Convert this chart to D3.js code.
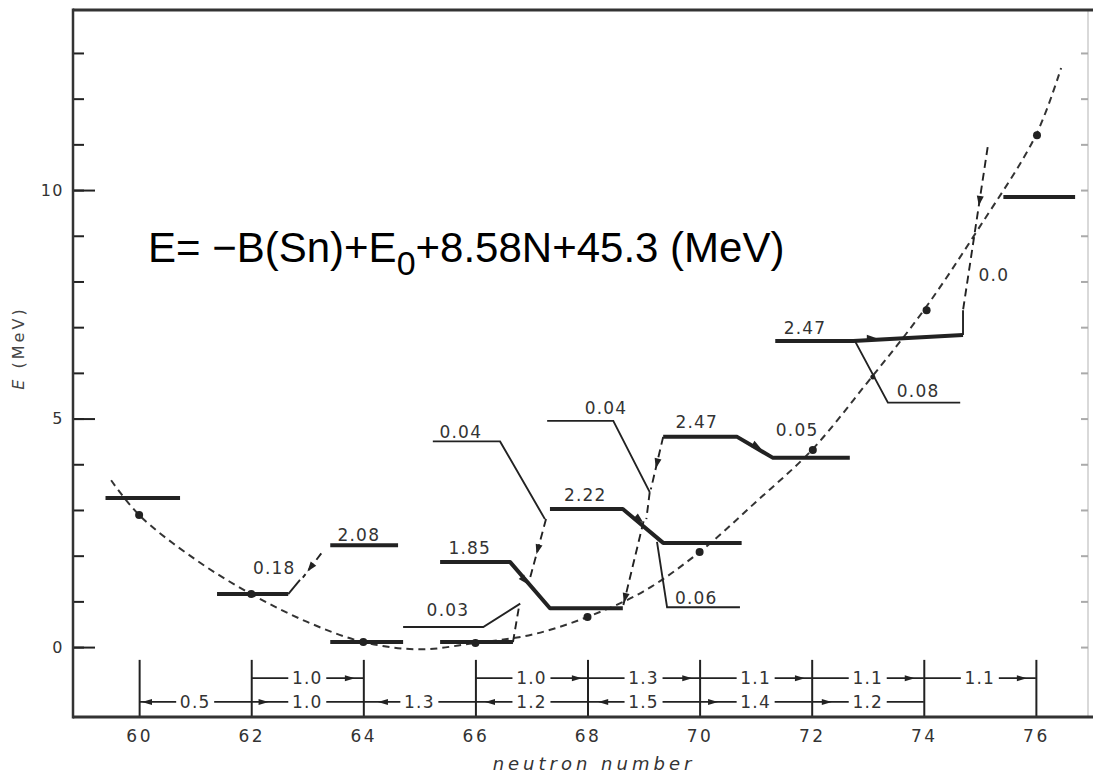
<!DOCTYPE html>
<html><head><meta charset="utf-8">
<script src="https://cdn.jsdelivr.net/npm/d3@7"></script>
<style>body{margin:0;background:#fff} svg{display:block}</style>
</head><body>
<svg id="c" width="1093" height="779"></svg>
<script>
// ---------- data ----------
const xTicks = [60, 62, 64, 66, 68, 70, 72, 74, 76];
const xTickLabels = ["60", "62", "64", "66", "68", "70", "72", "74", "76"];
const yMajorTicks = [0, 5, 10];
const yMinorTicks = [0, 1, 2, 3, 4, 5, 6, 7, 8, 9, 10, 11, 12, 13];

// dashed parabola, read point by point
const parabolaN = [59.5, 60, 61, 62, 63, 64, 65, 66, 67, 68, 69, 70, 71, 72, 73, 74, 75, 76, 76.45];
const parabolaE = [3.65, 2.89, 1.92, 1.16, 0.55, 0.11, -0.05, 0.09, 0.27, 0.66, 1.22, 2.08, 3.17, 4.31, 5.8, 7.37, 9.2, 11.2, 12.67];

// filled points
const dotN = [60, 62, 64, 66, 68, 70, 72.02, 74.05, 76.02];
const dotE = [2.89, 1.16, 0.11, 0.09, 0.66, 2.08, 4.31, 7.37, 11.2];
const smallDotN = [73.09];
const smallDotE = [5.91];

// thick level lines (N, E)
const levels = [
  [[59.4, 3.26], [60.73, 3.26]],
  [[61.39, 1.16], [62.66, 1.16]],
  [[63.41, 2.23], [64.62, 2.23]],
  [[63.41, 0.11], [64.71, 0.11]],
  [[65.37, 0.11], [66.67, 0.11]],
  [[65.37, 1.86], [66.62, 1.86], [67.33, 0.85], [68.63, 0.85]],
  [[67.33, 3.02], [68.63, 3.02], [69.35, 2.28], [70.75, 2.28]],
  [[69.35, 4.6], [70.67, 4.6], [71.31, 4.14], [72.68, 4.14]],
  [[71.35, 6.70], [72.74, 6.70], [74.70, 6.83]],
  [[75.42, 9.85], [76.70, 9.85]]
];

// thin connector / underline lines
const thinLines = [
  [[62.66, 1.16], [62.87, 1.47]],
  [[64.71, 0.44], [66.14, 0.44], [66.8, 0.95]],
  [[65.24, 4.5], [66.44, 4.5], [67.24, 2.8]],
  [[67.28, 4.95], [68.46, 4.95], [69.11, 3.39]],
  [[69.24, 2.3], [69.42, 0.87], [70.72, 0.87]],
  [[72.77, 6.70], [73.36, 5.35], [74.65, 5.35]],
  [[74.70, 6.83], [74.70, 7.37]]
];

// dashed transitions
const transitions = [
  [[63.25, 2.05], [62.92, 1.52]],
  [[67.26, 2.8], [66.95, 1.4]],
  [[69.11, 3.39], [69.05, 2.8]],
  [[69.35, 4.6], [69.13, 3.45]],
  [[69.0, 2.75], [68.63, 0.87]],
  [[66.67, 0.11], [66.78, 0.9]],
  [[75.14, 10.94], [74.70, 7.37]]
];
// arrowhead position as fraction along line, null = none
const transitionHead = [0.75, 0.55, null, 0.6, 0.95, null, 0.36];

// arrow marks sitting on level slopes (position and direction)
const markN = [66.89, 68.94, 71.04, 73.09];
const markE = [1.44, 2.78, 4.38, 6.76];
const markDN = [0.71, 0.72, 0.64, 1];
const markDE = [-1.01, -0.74, -0.46, 0];

// level labels
const labelText = ["0.18", "2.08", "0.03", "1.85", "0.04", "2.22", "0.04", "2.47", "0.05", "0.06", "2.47", "0.08", "0.0"];
const labelN = [62.41, 63.92, 65.51, 65.9, 65.74, 67.96, 68.33, 69.95, 71.74, 69.94, 71.88, 73.9, 75.25];
const labelE = [1.73, 2.45, 0.81, 2.17, 4.70, 3.33, 5.23, 4.92, 4.75, 1.07, 6.98, 5.60, 8.14];

// bottom spacing rows
const upperRowFrom = [62, 66, 68, 70, 72, 74];
const upperRowTo = [64, 68, 70, 72, 74, 76];
const upperRowLabels = ["1.0", "1.0", "1.3", "1.1", "1.1", "1.1"];
const upperRowArrowN = [63.76, 67.81, 69.78, 71.79, 73.75, 75.75];
const upperRowArrowDir = [1, 1, 1, 1, 1, 1];
const lowerRowFrom = [60, 62, 64, 66, 68, 70, 72];
const lowerRowTo = [62, 64, 66, 68, 70, 72, 74];
const lowerRowLabels = ["0.5", "1.0", "1.3", "1.2", "1.5", "1.4", "1.2"];
const lowerRowArrowN = [60.14, 62.22, 64.35, 66.26, 68.28, 70.24, 72.27];
const lowerRowArrowDir = [-1, 1, -1, -1, -1, 1, 1];
const upperRowE = -0.68, lowerRowE = -1.2, tickTopE = -0.28;

// ---------- drawing ----------
const svg = d3.select("#c");
const ink = "#222";
const x = d3.scaleLinear().domain([58.82, 76.93]).range([73, 1088]);
const y = d3.scaleLinear().domain([-1.53, 13.94]).range([717, 10]);
const lbFont = "'DejaVu Sans', sans-serif";

// right faint axis
svg.append("line").attr("x1", 1088).attr("x2", 1088).attr("y1", y(13.94)).attr("y2", y(-1.53))
  .attr("stroke", "#ccc").attr("stroke-width", 1.5);
svg.append("g").attr("transform", `translate(1088,0)`)
  .call(d3.axisRight(y).tickValues(yMinorTicks).tickSize(-7).tickFormat(""))
  .call(g => g.select(".domain").remove())
  .call(g => g.selectAll("line").attr("stroke", "#aaa").attr("stroke-width", 2));

// left axis minor ticks
svg.append("g").attr("transform", `translate(${x.range()[0]},0)`)
  .call(d3.axisLeft(y).tickValues(yMinorTicks).tickSize(-11).tickFormat(""))
  .call(g => g.select(".domain").remove())
  .call(g => g.selectAll("line").attr("stroke", ink).attr("stroke-width", 2));
// left axis major ticks + labels
svg.append("g").attr("transform", `translate(${x.range()[0]},0)`)
  .call(d3.axisLeft(y).tickValues(yMajorTicks).tickSize(-22).tickPadding(9).tickFormat(d3.format("d")))
  .call(g => g.select(".domain").remove())
  .call(g => g.selectAll("line").attr("stroke", ink).attr("stroke-width", 2))
  .call(g => g.selectAll("text").attr("font-family", lbFont).attr("font-size", 16)
      .attr("fill", "#333").attr("letter-spacing", 1.5));

// bottom axis with tall inward ticks
const tickLen = y(tickTopE) - y(-1.53);
svg.append("g").attr("transform", `translate(0,${y.range()[0]})`)
  .call(d3.axisBottom(x).tickValues(xTicks).tickSizeInner(tickLen).tickSizeOuter(0).tickPadding(13)
      .tickFormat((d, i) => xTickLabels[i]))
  .call(g => g.select(".domain").remove())
  .call(g => g.selectAll("line").attr("stroke", ink).attr("stroke-width", 2))
  .call(g => g.selectAll("text").attr("font-family", lbFont).attr("font-size", 17)
      .attr("fill", "#333").attr("letter-spacing", 2.5));

// frame lines
svg.append("line").attr("x1", 73).attr("x2", 1093).attr("y1", y(13.94)).attr("y2", y(13.94))
  .attr("stroke", "#333").attr("stroke-width", 3);
svg.append("line").attr("x1", 73).attr("x2", 1093).attr("y1", y(-1.53)).attr("y2", y(-1.53))
  .attr("stroke", "#333").attr("stroke-width", 3);
svg.append("line").attr("x1", 73).attr("x2", 73).attr("y1", y(13.94) - 1.5).attr("y2", y(-1.53) + 1.5)
  .attr("stroke", "#333").attr("stroke-width", 2.5);

// axis titles
svg.append("text").attr("transform", `translate(24,348) rotate(-90)`).attr("text-anchor", "middle")
  .attr("font-family", lbFont).attr("font-size", 16).attr("fill", "#444").attr("letter-spacing", 3)
  .html("<tspan font-style='italic'>E</tspan> (MeV)");
svg.append("text").attr("x", 594).attr("y", 770).attr("text-anchor", "middle")
  .attr("font-family", lbFont).attr("font-style", "italic").attr("font-size", 18).attr("fill", "#333")
  .attr("letter-spacing", 4).text("neutron number");

const line = d3.line().x(d => x(d[0])).y(d => y(d[1]));

function arrowHead(px, py, ang, len = 11, w = 7) {
  svg.append("path").attr("d", `M0,0 L${-len},${-w / 2} L${-len},${w / 2} Z`)
    .attr("transform", `translate(${px},${py}) rotate(${ang})`).attr("fill", ink);
}

// parabola
const parabola = parabolaN.map((n, i) => [n, parabolaE[i]]);
svg.append("path").attr("d", d3.line().x(d => x(d[0])).y(d => y(d[1])).curve(d3.curveCatmullRom.alpha(0.5))(parabola))
  .attr("fill", "none").attr("stroke", "#333").attr("stroke-width", 2).attr("stroke-dasharray", "7,5");

// thin lines
thinLines.forEach(p => svg.append("path").attr("d", line(p)).attr("fill", "none")
  .attr("stroke", ink).attr("stroke-width", 1.9));

// transitions
transitions.forEach((p, i) => {
  svg.append("path").attr("d", line(p)).attr("fill", "none").attr("stroke", ink)
    .attr("stroke-width", 1.9).attr("stroke-dasharray", "8,5");
  const t = transitionHead[i];
  if (t !== null) {
    const x0 = x(p[0][0]), y0 = y(p[0][1]), x1 = x(p[1][0]), y1 = y(p[1][1]);
    const ang = Math.atan2(y1 - y0, x1 - x0) * 180 / Math.PI;
    arrowHead(x0 + (x1 - x0) * t, y0 + (y1 - y0) * t, ang, 10, 7);
  }
});

// levels
levels.forEach(p => svg.append("path").attr("d", line(p)).attr("fill", "none")
  .attr("stroke", ink).attr("stroke-width", 4).attr("stroke-linejoin", "round"));

// marks on slopes
markN.forEach((n, i) => {
  const ang = Math.atan2(y(markE[i] + markDE[i]) - y(markE[i]), x(n + markDN[i]) - x(n)) * 180 / Math.PI;
  arrowHead(x(n) + 4 * Math.cos(ang * Math.PI / 180), y(markE[i]) + 4 * Math.sin(ang * Math.PI / 180), ang, 10, 7);
});

// dots
dotN.forEach((n, i) => svg.append("circle").attr("cx", x(n)).attr("cy", y(dotE[i])).attr("r", 4).attr("fill", ink));
smallDotN.forEach((n, i) => svg.append("circle").attr("cx", x(n)).attr("cy", y(smallDotE[i])).attr("r", 2.5).attr("fill", ink));

// level labels
labelText.forEach((t, i) => svg.append("text").attr("x", x(labelN[i])).attr("y", y(labelE[i]))
  .attr("text-anchor", "middle").attr("dominant-baseline", "central")
  .attr("font-family", lbFont).attr("font-size", 17).attr("letter-spacing", 1.2).attr("fill", "#333").text(t));

// bottom rows
function drawRow(from, to, labels, arrN, arrDir, e) {
  const yy = y(e);
  from.forEach((f, i) => {
    const xa = x(f), xb = x(to[i]), xm = (xa + xb) / 2, gap = 19;
    svg.append("line").attr("x1", xa).attr("x2", xm - gap).attr("y1", yy).attr("y2", yy)
      .attr("stroke", ink).attr("stroke-width", 1.6);
    svg.append("line").attr("x1", xm + gap).attr("x2", xb).attr("y1", yy).attr("y2", yy)
      .attr("stroke", ink).attr("stroke-width", 1.6);
    svg.append("text").attr("x", xm).attr("y", yy).attr("text-anchor", "middle").attr("dominant-baseline", "central")
      .attr("font-family", lbFont).attr("font-size", 17).attr("letter-spacing", 1.2).attr("fill", "#333").text(labels[i]);
    arrowHead(x(arrN[i]) + arrDir[i] * 5, yy, arrDir[i] > 0 ? 0 : 180, 10, 6);
  });
}
drawRow(upperRowFrom, upperRowTo, upperRowLabels, upperRowArrowN, upperRowArrowDir, upperRowE);
drawRow(lowerRowFrom, lowerRowTo, lowerRowLabels, lowerRowArrowN, lowerRowArrowDir, lowerRowE);

// formula annotation
const f = svg.append("text").attr("x", 148).attr("y", 262)
  .attr("font-family", "'Liberation Sans', Arial, sans-serif").attr("font-size", 42).attr("fill", "#000");
f.append("tspan").text("E= \u2212B(Sn)+E");
f.append("tspan").attr("font-size", 34).attr("dy", 13).text("0");
f.append("tspan").attr("dy", -13).text("+8.58N+45.3 (MeV)");
</script>
</body></html>
